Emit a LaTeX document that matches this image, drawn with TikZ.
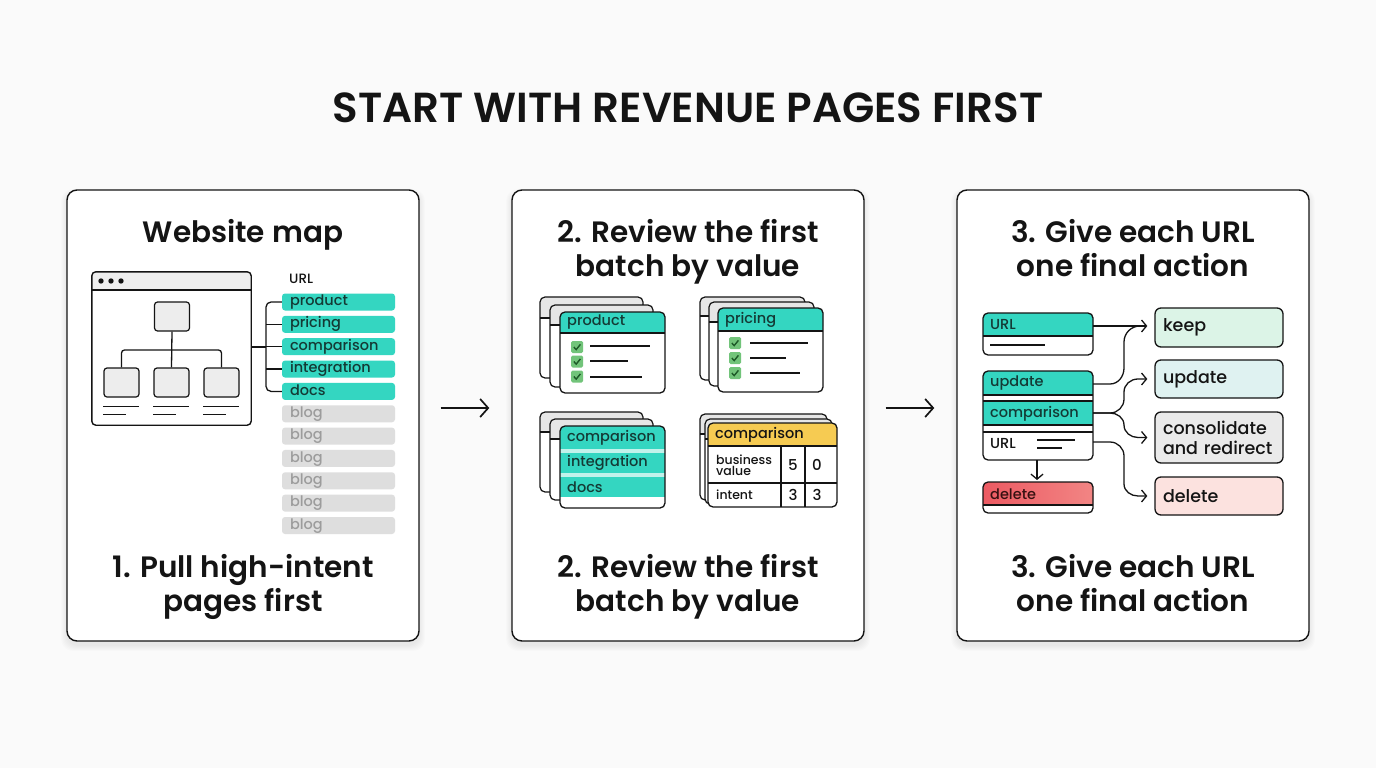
\documentclass[tikz,border=0pt]{standalone}
\usepackage{fontspec}
\setmainfont{Poppins}[BoldFont={Poppins SemiBold}]
\newfontfamily\medfont{Poppins Medium}
\usetikzlibrary{arrows.meta}
\definecolor{bgc}{HTML}{FAFAFA}
\definecolor{ink}{HTML}{141414}
\definecolor{tealc}{HTML}{34D6C1}
\definecolor{tealg}{HTML}{C2F2EB}
\definecolor{tagink}{HTML}{143A35}
\definecolor{grytag}{HTML}{DEDEDE}
\definecolor{blogink}{HTML}{9C9C9C}
\definecolor{barc}{HTML}{EEEEEE}
\definecolor{boxg}{HTML}{EDEDED}
\definecolor{chkg}{HTML}{72C47A}
\definecolor{chkd}{HTML}{1E5A28}
\definecolor{yelc}{HTML}{F6CB52}
\definecolor{redl}{HTML}{EC5A62}
\definecolor{redr}{HTML}{F28584}
\definecolor{keepc}{HTML}{DCF4E7}
\definecolor{updc}{HTML}{DFF2F1}
\definecolor{consc}{HTML}{EAEAEA}
\definecolor{delc}{HTML}{FCE2DF}
\definecolor{backc}{HTML}{E6E6E6}
\newcommand\mycard[6]{%
  \fill[white, rounded corners=5] (#1,#2) rectangle (#3,#4);
  \fill[#6, rounded corners=5] (#1,#2) rectangle (#3,#5);
  \fill[#6] (#1,#2+6) rectangle (#3,#5);
  \draw[line width=1.2, ink] (#1,#5) -- (#3,#5);
  \draw[line width=1.3, ink, rounded corners=5] (#1,#2) rectangle (#3,#4);
}
\newcommand\myback[5]{%
  \fill[white, rounded corners=5] (#1,#2) rectangle (#3,#4);
  \fill[backc, rounded corners=5] (#1,#2) rectangle (#3,#5);
  \fill[backc] (#1,#2+6) rectangle (#3,#5);
  \draw[line width=1.1, ink] (#1,#5) -- (#3,#5);
  \draw[line width=1.2, ink, rounded corners=5] (#1,#2) rectangle (#3,#4);
}
\tikzset{
  chkbox/.pic={\fill[chkg, rounded corners=1.5] (-6,-6) rectangle (6,6);
    \draw[chkd, line width=1.4] (-3.2,0) -- (-0.8,2.6) -- (3.4,-2.6);},
  panel/.style={draw=ink, line width=1.4, fill=white, rounded corners=10, minimum width=352, minimum height=451},
  head/.style={font=\fontsize{29.5}{34}\selectfont\bfseries, text=ink, align=center},
  tag/.style={fill=tealc, rounded corners=3, minimum width=113, minimum height=17, text width=97, inner xsep=8, inner ysep=0, align=left, font=\fontsize{14.5}{14.5}\selectfont\medfont, text=tagink, text height=10.2, text depth=3},
  btag/.style={tag, fill=grytag, text=blogink},
  lbl/.style={anchor=west, font=\fontsize{14.5}{14.5}\selectfont\medfont, text=tagink, inner sep=0},
  tbox/.style={draw=ink, line width=1.2, fill=boxg, rounded corners=3, minimum width=35, minimum height=29},
  rbox/.style={draw=ink, line width=1.3, rounded corners=6, minimum width=128, text width=112, align=left, inner xsep=8, font=\fontsize{17.5}{20}\selectfont\medfont, text=ink},
  arr/.style={-{Straight Barb[length=5pt,width=12pt,line width=1.3pt]}, line width=1.3, ink},
  bigarr/.style={-{Straight Barb[length=8pt,width=18pt,line width=1.7pt]}, line width=1.7, ink},
  ln/.style={line width=1.3, ink}
}
\begin{document}
\begin{tikzpicture}[x=1pt,y=-1pt]
\useasboundingbox (0,0) rectangle (1376,768);
\fill[bgc] (0,0) rectangle (1376,768);

\node[font=\fontsize{42}{42}\selectfont\bfseries, text=ink] (T) at (688,108) {START WITH REVENUE PAGES FIRST};

% shadows
\foreach \cx in {243,688,1133}{
  \foreach \k in {1,...,6}{
    \fill[black, opacity=0.012, rounded corners=12] (\cx-176-\k,192-0.5*\k) rectangle (\cx+176+\k,645+\k);
  }
}

% panels
\node[panel] (P1) at (243,415.5) {};
\node[panel] (P2) at (688,415.5) {};
\node[panel] (P3) at (1133,415.5) {};

\draw[bigarr] ([xshift=21pt,yshift=7.5pt]P1.east) -- ([xshift=-22pt,yshift=7.5pt]P2.west);
\draw[bigarr] ([xshift=21pt,yshift=7.5pt]P2.east) -- ([xshift=-22pt,yshift=7.5pt]P3.west);

% ===== Panel 1 =====
\node[head] (h1) at (243,235) {Website map};
\node[head] (f1) at (243,586.5) {1. Pull high-intent\\pages first};

\node[fill=white, rounded corners=4, minimum width=159, minimum height=153] (W) at (171.5,348.5) {};
\fill[barc, rounded corners=4] (92,272) rectangle (251,290);
\fill[barc] (92,280) rectangle (251,290);
\draw[ln] (92,290) -- (251,290);
\draw[line width=1.4, ink, rounded corners=4] (W.north west) rectangle (W.south east);
\foreach \dx in {101,111,121} \fill[ink] (\dx,281) circle (2.7);

\node[tbox] (t0) at (172,316.5) {};
\node[tbox] (b1) at (121.5,382.5) {};
\node[tbox] (b2) at (171.5,382.5) {};
\node[tbox] (b3) at (221.5,382.5) {};
\coordinate (j) at (172,350);
\draw[ln] (t0.south) -- (b2.north);
\draw[ln, rounded corners=3] (b1.north) |- (j) -| (b3.north);
\foreach \b in {b1,b2,b3}{
  \draw[ln] (\b.south west) ++(0,9) -- ++(36,0);
  \draw[ln] (\b.south west) ++(0,17) -- ++(23,0);
}

\node[anchor=west, font=\fontsize{13.5}{13.5}\selectfont\medfont, text=ink, inner sep=0] (url1) at (289,279) {URL};
\foreach \t [count=\i from 0] in {product,pricing,comparison,integration,docs}{
  \node[tag] (tg\i) at (338.5,302+22.35*\i) {\t};
}
\foreach \i in {5,...,10}{
  \node[btag] (tg\i) at (338.5,302+22.35*\i) {blog};
}
\coordinate (brk) at (266,347);
\draw[ln] (W.east |- brk) -- (brk);
\draw[ln, rounded corners=5] (tg0.west) -| (brk) |- (tg4.west);
\draw[ln] (brk |- tg1.west) -- (tg1.west);
\draw[ln] (brk |- tg2.west) -- (tg2.west);
\draw[ln] (brk |- tg3.west) -- (tg3.west);

% ===== Panel 2 =====
\node[head] (h2) at (688,252) {2. Review the first\\batch by value};
\node[head] (f2) at (688,586.5) {2. Review the first\\batch by value};

% card product
\myback{540}{297}{643}{378}{318}
\myback{550}{305}{653}{387}{325}
\mycard{560}{312}{665}{393}{333}{tealc}
\node[lbl] (c1) at (567,322.5) {product};
\pic at (577,347) {chkbox};
\pic at (577,361.5) {chkbox};
\pic at (577,376.5) {chkbox};
\draw[ln] (590,346) -- (650,346);
\draw[ln] (590,361) -- (628,361);
\draw[ln] (590,377) -- (642,377);

% card pricing
\myback{700}{297}{805}{380}{316}
\myback{709}{302}{814}{386}{322}
\mycard{718}{308}{823}{392}{331}{tealc}
\node[lbl] (c2) at (725,320) {pricing};
\pic at (735,343) {chkbox};
\pic at (735,358) {chkbox};
\pic at (735,373) {chkbox};
\draw[ln] (750,343) -- (808,343);
\draw[ln] (750,358) -- (786,358);
\draw[ln] (750,373) -- (800,373);

% card list
\myback{540}{412}{643}{492}{432}
\myback{550}{419}{653}{500}{439}
\fill[white, rounded corners=5] (560,426) rectangle (665,508);
\fill[tealc, rounded corners=5] (560,426) rectangle (665,449);
\fill[tealc] (560,434) rectangle (665,449);
\fill[tealg] (560,449) rectangle (665,453);
\fill[tealc] (560,453) rectangle (665,473);
\fill[tealg] (560,473) rectangle (665,477);
\fill[tealc] (560,477) rectangle (665,497);
\draw[line width=1.3, ink, rounded corners=5] (560,426) rectangle (665,508);
\node[lbl] (c3a) at (567,438) {comparison};
\node[lbl] (c3b) at (567,463) {integration};
\node[lbl] (c3c) at (567,487) {docs};

% card table
\myback{700}{414}{827}{500}{434}
\myback{705}{419}{832}{504}{439}
\mycard{708}{423}{837}{507}{446}{yelc}
\node[lbl, text=ink] (c4) at (715,435) {comparison};
\draw[ln] (708,483) -- (837,483);
\draw[ln] (781,446) -- (781,507);
\draw[ln] (805,446) -- (805,507);
\node[anchor=west, align=left, inner sep=0, font=\fontsize{12.5}{10.5}\selectfont\medfont, text=ink] (bv) at (716,465) {business\\value};
\node[anchor=west, inner sep=0, font=\fontsize{12.5}{12}\selectfont\medfont, text=ink] (it) at (716,495) {intent};
\node[font=\fontsize{15}{15}\selectfont\medfont, text=ink] (n1) at (793,465) {5};
\node[font=\fontsize{15}{15}\selectfont\medfont, text=ink] (n2) at (817,465) {0};
\node[font=\fontsize{15}{15}\selectfont\medfont, text=ink] (n3) at (793,495) {3};
\node[font=\fontsize{15}{15}\selectfont\medfont, text=ink] (n4) at (817,495) {3};

% ===== Panel 3 =====
\node[head] (h3) at (1133,248.5) {3. Give each URL\\one final action};
\node[head] (f3) at (1133,583.5) {3. Give each URL\\one final action};

% card A
\mycard{983}{313}{1093}{355}{336}{tealc}
\node[lbl] (aU) at (990,325) {URL};
\draw[ln] (990,345) -- (1045,345);
\coordinate (aE) at (1093,326);

% card B
\fill[white, rounded corners=5] (983,371) rectangle (1093,460);
\fill[tealc, rounded corners=5] (983,371) rectangle (1093,395);
\fill[tealc] (983,379) rectangle (1093,395);
\fill[tealc] (983,401) rectangle (1093,425);
\draw[ln] (983,395) -- (1093,395);
\draw[ln] (983,401) -- (1093,401);
\draw[ln] (983,425) -- (1093,425);
\draw[ln] (983,432) -- (1093,432);
\draw[line width=1.3, ink, rounded corners=5] (983,371) rectangle (1093,460);
\node[lbl] (bU) at (990,383.5) {update};
\node[lbl] (bC) at (990,413.5) {comparison};
\node[lbl, text=ink] (bR) at (990,444) {URL};
\draw[ln] (1037,440) -- (1075,440);
\draw[ln] (1037,448) -- (1062,448);
\coordinate (bUE) at (1093,384);
\coordinate (bCE) at (1093,413);
\coordinate (bRE) at (1093,442);
\coordinate (bBot) at (1037,460);

% delete card
\fill[white, rounded corners=5] (983,482) rectangle (1093,513);
\shade[left color=redl, right color=redr, rounded corners=5] (983,482) rectangle (1093,505);
\shade[left color=redl, right color=redr] (983,490) rectangle (1093,505);
\draw[ln] (983,505) -- (1093,505);
\draw[line width=1.3, ink, rounded corners=5] (983,482) rectangle (1093,513);
\node[lbl, text=ink!85!red] (dL) at (990,494) {delete};
\coordinate (dTop) at (1037,482);
\draw[arr] (bBot) -- ([yshift=2pt]dTop);

% right boxes
\node[rbox, fill=keepc, minimum height=39] (keep) at (1219,327.5) {keep};
\node[rbox, fill=updc, minimum height=38] (upd) at (1219,379) {update};
\node[rbox, fill=consc, minimum height=51] (cons) at (1219,437.5) {consolidate\\and redirect};
\node[rbox, fill=delc, minimum height=38] (del) at (1219,496) {delete};

\draw[arr, shorten >=7pt] (aE) -- (keep.west |- aE);
\draw[ln] (bUE) -- (1110,384) to[out=0,in=-90] (1124,368) -- (1124,342) to[out=90,in=180] (1140,326);
\draw[arr, shorten >=7pt] (bCE) -- (1110,413) to[out=0,in=-90] (1124,399) -- (1124,392) to[out=90,in=180] (1138,379) -- (upd.west);
\draw[arr, shorten >=7pt] (bCE) -- (1110,413) to[out=0,in=90] (1124,425) to[out=-90,in=180] (1138,437.5) -- (cons.west);
\draw[arr, shorten >=7pt] (bRE) -- (1110,442) to[out=0,in=90] (1124,456) -- (1124,484) to[out=-90,in=180] (1138,496) -- (del.west);
\end{tikzpicture}
\end{document}
